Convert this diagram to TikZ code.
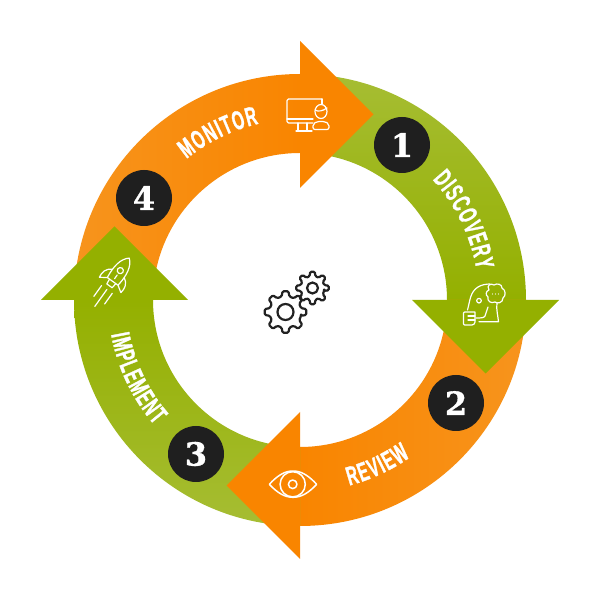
\documentclass[tikz,border=0pt]{standalone}
\usepackage{fontspec}
\usetikzlibrary{decorations.text}
\newfontfamily\condfont[FakeStretch=0.58,FakeBold=1.1]{Liberation Sans Bold}
\newfontfamily\numfont[FakeBold=1]{DejaVu Serif Bold}
\definecolor{orA}{HTML}{F7941D}
\definecolor{orB}{HTML}{F98500}
\definecolor{grA}{HTML}{A6BD33}
\definecolor{grB}{HTML}{94B000}
\definecolor{disc}{HTML}{1F1F1F}
\definecolor{gearc}{HTML}{222222}
\tikzset{
  numdisc/.style={circle,fill=disc,minimum size=56pt,inner sep=0pt,text=white,font=\numfont\fontsize{32}{32}\selectfont},
  ico/.style={draw=white,line width=1.2pt,line cap=round,line join=round},
  gearline/.style={draw=gearc,line width=2.2pt,line join=round},
  arclabel/.style={decorate,decoration={text effects along path,text={#1},text align=center,
    text effects/.cd,text along path,
    character widths={inner xsep=0.7pt,font=\condfont\fontsize{26.5}{26.5}\selectfont},
    characters={text=white,inner xsep=0.7pt,font=\condfont\fontsize{26.5}{26.5}\selectfont}}}
}
\newcommand{\annul}[2]{(300,300) ++(#1:226) arc[start angle=#1,end angle=#2,radius=226] -- ++(#2:-79) arc[start angle=#2,end angle=#1,radius=147] -- cycle}
\newcommand{\gearpath}[4]{% cx cy r1 r2
  \draw[gearline,rounded corners=1.3pt] ({#1+#3*cos(-14)},{#2+#3*sin(-14)})
   \foreach \a in {0,45,...,315} {
     -- ({#1+#3*cos(\a-14)},{#2+#3*sin(\a-14)})
     -- ({#1+#4*cos(\a-8)},{#2+#4*sin(\a-8)})
     -- ({#1+#4*cos(\a+8)},{#2+#4*sin(\a+8)})
     -- ({#1+#3*cos(\a+14)},{#2+#3*sin(\a+14)})
   } -- cycle;}
\begin{document}
\begin{tikzpicture}[x=1pt,y=1pt]
\useasboundingbox (0,0) rectangle (600,600);
\fill[white] (0,0) rectangle (600,600);
% ring bodies
\shade[left color=orA,right color=orB] \annul{180}{90};
\shade[top color=grA,bottom color=grB] \annul{90}{0};
\shade[left color=orB,right color=orA] \annul{0}{-90};
\shade[bottom color=grA,top color=grB] \annul{-90}{-180};
% arrow heads
\fill[orB] (300,559) -- (373.5,485.5) -- (300,412) -- cycle;
\fill[grB] (559,300) -- (485.5,226.5) -- (412,300) -- cycle;
\fill[orB] (300,41) -- (226.5,114.5) -- (300,188) -- cycle;
\fill[grB] (41,300) -- (114.5,373.5) -- (188,300) -- cycle;
% labels
\path[arclabel=MONITOR] (300,300) ++(140:181) arc[start angle=140,end angle=92,radius=181];
\path[arclabel=DISCOVERY] (300,300) ++(56:179) arc[start angle=56,end angle=-4,radius=179];
\path[arclabel=REVIEW] (300,300) ++(271:192) arc[start angle=271,end angle=319,radius=192];
\path[arclabel=IMPLEMENT] (300,300) ++(175.5:192) arc[start angle=175.5,end angle=235.5,radius=192];
% number discs
\node[numdisc] (n1) at (402,455) {1};
\node[numdisc] (n2) at (456,197) {2};
\node[numdisc] (n3) at (196,146) {3};
\node[numdisc] (n4) at (144,402) {4};
% gears
\gearpath{285.5}{288}{16}{21}
\draw[gearline] (285.5,288) circle[radius=8];
\gearpath{312.5}{312}{12}{16.5}
\draw[gearline] (312.5,312) circle[radius=5.5];
% icons, in image coordinates
\begin{scope}[shift={(0,600)},y=-1pt]
  % monitor
  \draw[ico,rounded corners=1.5pt] (322,99) -- (287,99) -- (287,123) -- (313,123);
  \draw[ico] (287,119) -- (313,119);
  \draw[ico] (322,99) -- (322,104);
  \draw[ico] (298,123) -- (298,131) (307,123) -- (307,131);
  \draw[ico] (296,131) -- (312,131);
  \filldraw[ico,fill=orB] (321,111.5) ellipse[x radius=6,y radius=7];
  \draw[ico] (315,110) .. controls (318,112) and (323,111) .. (327,108);
  \filldraw[ico,fill=orB,rounded corners=2pt] (313,129.5) -- (313,124) -- (317,121.5) -- (325,121.5) -- (329,124) -- (329,129.5) -- cycle;
  % eye
  \draw[ico,line width=1.5pt] (269.3,484.3) .. controls (278,475) and (285,471) .. (293,471) .. controls (301,471) and (308,475) .. (316.7,484.3) .. controls (308,493.5) and (301,497.3) .. (293,497.3) .. controls (285,497.3) and (278,493.5) .. (269.3,484.3) -- cycle;
  \draw[ico,line width=1.5pt] (292.7,484.3) circle[radius=12.6];
  \draw[ico,line width=1.5pt] (292.7,484.3) circle[radius=4.3];
  % thinking head
  \draw[ico] (467.5,310) .. controls (470,301) and (470,292) .. (478,287) .. controls (481,285) and (486,284) .. (490,284);
  \draw[ico] (497,303) .. controls (496,309) and (498,316) .. (498.5,321.7) -- (479,321.7);
  \draw[ico] (488,307) -- (485,316) .. controls (484,318) and (481,318) .. (476,318);
  \draw[ico] (479,300.7) circle[radius=2.3];
  \draw[ico] (489,290) .. controls (486,285) and (491,283) .. (494,285) .. controls (497,283) and (502,284) .. (502,288) .. controls (506,290) and (506,296) .. (503,298) .. controls (503,303) and (497,304) .. (495,302) .. controls (491,304) and (487,301) .. (488,297) .. controls (485,295) and (486,291) .. (489,290) -- cycle;
  \fill[white] (492.5,294) circle[radius=.6] (495.5,294) circle[radius=.6] (498.5,294) circle[radius=.6];
  \draw[ico,rounded corners=1pt] (475,312) -- (463.5,312) -- (463.5,325) -- (473,325) -- (475,323) -- (475,312);
  \draw[ico] (468,316) -- (475,316) (468,320) -- (475,320);
  % rocket
  \begin{scope}[shift={(116.5,276)},rotate=-35.5,scale=1.1]
    \draw[ico] (0,-20) .. controls (6,-15) and (7.5,-6) .. (6,6) -- (-6,6) .. controls (-7.5,-6) and (-6,-15) .. (0,-20) -- cycle;
    \draw[ico] (0,-6) circle[radius=2.8];
    \draw[ico] (0,-1) -- (0,3);
    \draw[ico] (-6.5,-3) .. controls (-12,0) and (-13,5) .. (-12,10) -- (-6,6);
    \draw[ico] (6.5,-3) .. controls (12,0) and (13,5) .. (12,10) -- (6,6);
    \draw[ico] (-3.5,6) -- (-3,11) -- (3,11) -- (3.5,6);
    \draw[ico] (0,15) -- (0,34) (-6,15) -- (-6,27) (6,15) -- (6,27);
  \end{scope}
\end{scope}
\end{tikzpicture}
\end{document}
